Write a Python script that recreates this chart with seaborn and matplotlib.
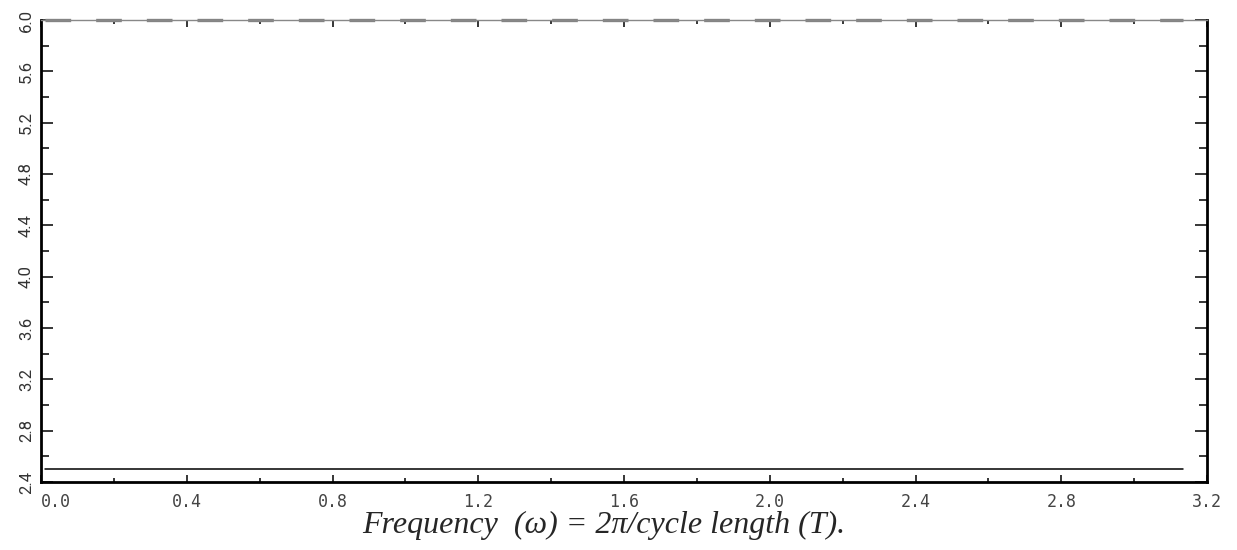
import numpy as np
import pandas as pd
import matplotlib
matplotlib.use("Agg")
import matplotlib.pyplot as plt
from matplotlib.ticker import MultipleLocator, FormatStrFormatter
import seaborn as sb

# values
freq = [0.011, 3.134]
spectrum = [2.5, 2.5]
upper = [6.0, 6.0]
x_ticks = [0.0, 0.4, 0.8, 1.2, 1.6, 2.0, 2.4, 2.8, 3.2]
y_ticks = [2.4, 2.8, 3.2, 3.6, 4.0, 4.4, 4.8, 5.2, 5.6, 6.0]

sb.set_style("white")
plt.rcParams['font.family'] = ['Roboto', 'DejaVu Sans']

df = pd.DataFrame({'freq': freq + freq,
                   'value': spectrum + upper,
                   'series': ['spectrum'] * 2 + ['upper'] * 2})

fig = plt.figure(figsize=(12.37, 5.5), dpi=100)
ax = fig.add_axes([41 / 1237, 68 / 550, 1166 / 1237, 462 / 550])

sb.lineplot(data=df[df.series == 'spectrum'], x='freq', y='value',
            color='black', linewidth=1.1, ax=ax)
sb.lineplot(data=df[df.series == 'upper'], x='freq', y='value',
            color='#848484', linewidth=2.4, ax=ax, clip_on=False)
ax.lines[-1].set_dashes((7.7, 7.5))

ax.set_xlim(0, 3.2)
ax.set_ylim(2.4, 6.0)
ax.set_xticks(x_ticks)
ax.set_yticks(y_ticks)
ax.xaxis.set_minor_locator(MultipleLocator(0.2))
ax.yaxis.set_minor_locator(MultipleLocator(0.2))
ax.xaxis.set_major_formatter(FormatStrFormatter('%.1f'))
ax.yaxis.set_major_formatter(FormatStrFormatter('%.1f'))

ax.tick_params(which='both', direction='in', top=True, right=True,
               bottom=True, left=True, color='black', width=1.1)
ax.tick_params(axis='y', which='major', length=8.5, pad=5)
ax.tick_params(axis='y', which='minor', length=5.5)
ax.tick_params(axis='x', which='major', length=5, pad=8)
ax.tick_params(axis='x', which='minor', length=3)

for lab in ax.get_xticklabels():
    lab.set_fontfamily('DejaVu Sans Mono')
    lab.set_fontsize(12)
    lab.set_color('#444444')
ax.get_xticklabels()[0].set_ha('left')
for lab in ax.get_yticklabels():
    lab.set_rotation(90)
    lab.set_fontsize(12)
    lab.set_va('center')
    lab.set_color('#333333')

for side in ['left', 'bottom', 'right']:
    ax.spines[side].set_color('black')
    ax.spines[side].set_linewidth(2)
ax.spines['top'].set_color('#888888')
ax.spines['top'].set_linewidth(1.0)

ax.set_ylabel('')
ax.set_xlabel('')
fig.text(604 / 1237, 1 - 525 / 550, 'Frequency  (ω) = 2π/cycle length (T).',
         family='Liberation Serif', style='italic', fontsize=23,
         ha='center', va='center')
if ax.get_legend():
    ax.get_legend().remove()

plt.savefig('out.png', dpi=100)
